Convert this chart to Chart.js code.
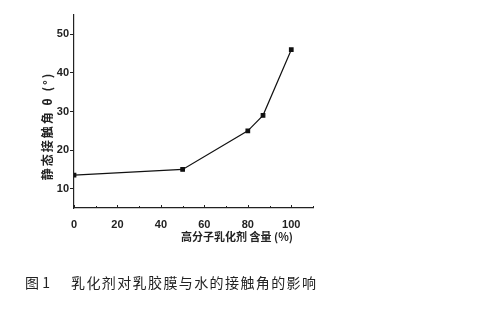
<!DOCTYPE html>
<html><head><meta charset="utf-8">
<script src="https://cdn.jsdelivr.net/npm/chart.js@4"></script>
<style>
html,body{margin:0;padding:0;background:#fff;}
#wrap{position:relative;width:503px;height:309px;}
.cap{position:absolute;top:272px;font-family:"Noto Sans CJK SC";font-size:14px;color:#222;white-space:pre;font-weight:400;}
#cap1{left:25px;letter-spacing:0px;}
#cap2{left:71px;letter-spacing:1.4px;}
</style></head>
<body><div id="wrap"><canvas id="c" width="503" height="309"></canvas>
<div class="cap" id="cap1">图 1</div><div class="cap" id="cap2">乳化剂对乳胶膜与水的接触角的影响</div></div>
<script>
const xValues = [0, 50, 80, 87, 100];
const yValues = [13.5, 15, 25, 29, 46];
const xTicks = [0, 20, 40, 60, 80, 100];
const xMinorTicks = [10, 30, 50, 70, 90, 110];
const yTicks = [10, 20, 30, 40, 50];
const xTitle = '高分子乳化剂 含量 (%)';
const yTitle = '静态接触角 θ (°)';

const extras = {
  id: 'extras',
  afterDraw(chart) {
    const ctx = chart.ctx;
    const xs = chart.scales.x, ys = chart.scales.y;
    ctx.save();
    ctx.strokeStyle = '#222';
    ctx.lineWidth = 1;
    const yb = Math.round(ys.getPixelForValue(5));
    ctx.beginPath();
    xTicks.forEach(v => { const p = Math.round(xs.getPixelForValue(v)) + 0.5; ctx.moveTo(p, yb); ctx.lineTo(p, yb - 3); });
    xMinorTicks.forEach(v => { const p = Math.round(xs.getPixelForValue(v)) + 0.5; ctx.moveTo(p, yb); ctx.lineTo(p, yb - 2); });
    ctx.stroke();
    ctx.fillStyle = '#222';
    ctx.font = 'bold 11px "Noto Sans CJK SC"';
    ctx.textAlign = 'center';
    ctx.textBaseline = 'middle';
    ctx.fillText(xTitle, 237, 237);
    ctx.translate(47, 126);
    ctx.rotate(-Math.PI / 2);
    ctx.font = 'bold 12px "Noto Sans CJK SC"';
    ctx.letterSpacing = '2px';
    ctx.fillText(yTitle, 0, 0);
    ctx.letterSpacing = '0px';
    ctx.restore();
  }
};

new Chart(document.getElementById('c'), {
  type: 'line',
  data: {
    datasets: [{
      data: xValues.map((x, i) => ({x: x, y: yValues[i]})),
      borderColor: '#111',
      borderWidth: 1.2,
      pointStyle: 'rect',
      pointRadius: 2.5,
      pointBackgroundColor: '#111',
      pointBorderColor: '#111',
      tension: 0
    }]
  },
  options: {
    responsive: false,
    animation: false,
    layout: {padding: {left: 0, top: 15, right: 190, bottom: 71}},
    plugins: {legend: {display: false}, tooltip: {enabled: false}},
    scales: {
      x: {
        type: 'linear', min: 0, max: 110,
        afterBuildTicks: s => { s.ticks = xTicks.map(v => ({value: v})); },
        afterFit: s => { s.height = 30; },
        grid: {display: false},
        border: {display: true, color: '#222', width: 1.2},
        ticks: {color: '#222', font: {family: 'Arial', size: 11, weight: 'bold'}, padding: 2, maxRotation: 0}
      },
      y: {
        type: 'linear', min: 5, max: 55,
        afterBuildTicks: s => { s.ticks = yTicks.map(v => ({value: v})); },
        afterFit: s => { s.width = 74; },
        grid: {display: true, drawOnChartArea: false, drawTicks: true, tickLength: 4, color: '#222'},
        border: {display: true, color: '#222', width: 1.2},
        ticks: {color: '#222', font: {family: 'Arial', size: 11, weight: 'bold'}, padding: 1}
      }
    }
  },
  plugins: [extras]
});
</script>
</body></html>
